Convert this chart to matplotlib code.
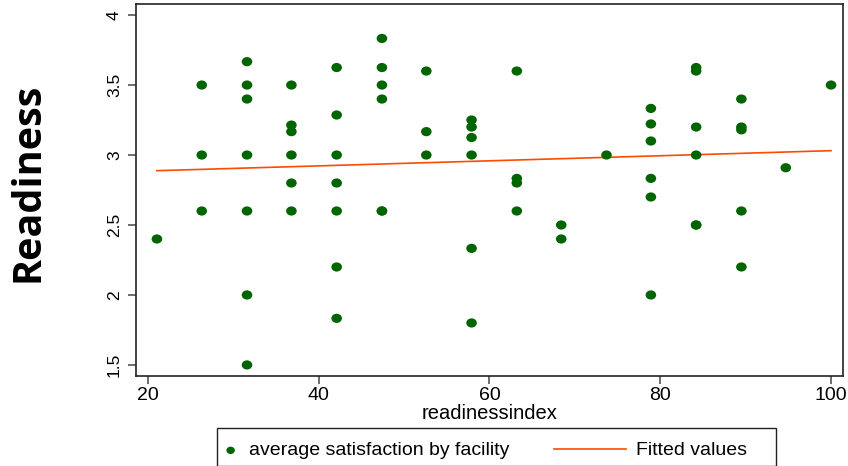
import numpy as np
import matplotlib.pyplot as plt
from matplotlib.path import Path
from matplotlib.patches import Rectangle
from matplotlib.transforms import Affine2D
from matplotlib.legend_handler import HandlerLine2D

# facility readiness index and average satisfaction
readiness = [21.05,
             26.3, 26.3, 26.3,
             31.6, 31.6, 31.6, 31.6, 31.6, 31.6, 31.6,
             36.8, 36.8, 36.8, 36.8, 36.8, 36.8,
             42.1, 42.1, 42.1, 42.1, 42.1, 42.1, 42.1,
             47.4, 47.4, 47.4, 47.4, 47.4, 47.4,
             52.6, 52.6, 52.6,
             57.9, 57.9, 57.9, 57.9, 57.9, 57.9,
             63.2, 63.2, 63.2, 63.2,
             68.4, 68.4,
             73.7,
             78.9, 78.9, 78.9, 78.9, 78.9, 78.9,
             84.2, 84.2, 84.2, 84.2, 84.2, 84.2,
             89.5, 89.5, 89.5, 89.5, 89.5,
             94.7,
             100.0]
satisfaction = [2.4,
                3.5, 3.0, 2.6,
                3.667, 3.5, 3.4, 3.0, 2.6, 2.0, 1.5,
                3.5, 3.214, 3.167, 3.0, 2.8, 2.6,
                3.625, 3.286, 3.0, 2.8, 2.6, 2.2, 1.833,
                3.833, 3.625, 3.5, 3.4, 2.6, 2.6,
                3.6, 3.167, 3.0,
                3.25, 3.2, 3.125, 3.0, 2.333, 1.8,
                3.6, 2.833, 2.8, 2.6,
                2.5, 2.4,
                3.0,
                3.333, 3.222, 3.1, 2.833, 2.7, 2.0,
                3.625, 3.6, 3.2, 3.0, 2.5, 2.5,
                3.4, 3.2, 3.18, 2.6, 2.2,
                2.909,
                3.5]

fit_x = [21.05, 100.0]
fit_y = [2.888, 3.031]


class WideLine(HandlerLine2D):
    # legend line that reaches further left than the handle box
    def get_xdata(self, legend, xdescent, ydescent, width, height, fontsize):
        x = np.array([-xdescent - 3.6 * width, -xdescent + width])
        return x, x


plt.rcParams['font.family'] = ['Liberation Sans', 'DejaVu Sans']

fig = plt.figure(figsize=(8.48, 4.66), dpi=100)
ax = fig.add_axes([136/848, 1 - 376/466, (843-136)/848, (376-4)/466])

dot = Path.unit_circle().transformed(Affine2D().scale(1.15, 1.0))
ax.scatter(readiness, satisfaction, s=58, marker=dot, color='#006400',
           edgecolors='none', label='average satisfaction by facility', zorder=3)
line, = ax.plot(fit_x, fit_y, color='#ff4a00', lw=1.2, label='Fitted values', zorder=2)

ax.set_xlim(18.6, 101.4)
ax.set_ylim(1.421, 4.079)
ax.set_xticks([20, 40, 60, 80, 100])
ax.set_yticks([1.5, 2, 2.5, 3, 3.5, 4])
ax.set_yticklabels(['1.5', '2', '2.5', '3', '3.5', '4'], rotation=90, va='center')
ax.tick_params(length=6, color='#555555', width=1.2)
ax.tick_params(axis='x', labelsize=14, pad=2)
ax.tick_params(axis='y', labelsize=12.5, pad=4)
for sp in ax.spines.values():
    sp.set_linewidth(1.2)
    sp.set_color('#222222')

ax.set_xlabel('readinessindex', fontsize=14.5, labelpad=0)
fig.text(28/848, 1 - 182/466, 'Readiness', rotation=90, fontsize=28.5,
         fontweight='bold', family='Open Sans', ha='center', va='center')

leg = fig.legend(loc='upper left', bbox_to_anchor=(217/848, 1 - 436/466),
                 borderaxespad=0, ncol=2, fontsize=14, frameon=False,
                 handlelength=0.8, handletextpad=0.53, columnspacing=5.2,
                 markerscale=0.8, borderpad=0.3, handler_map={line: WideLine()})
fig.patches.append(Rectangle((217/848, 1 - 465.5/466), (776-217)/848, 37.5/466,
                             transform=fig.transFigure, fill=False,
                             ec='#222222', lw=1.0))

fig.savefig('out.png', dpi=100)
